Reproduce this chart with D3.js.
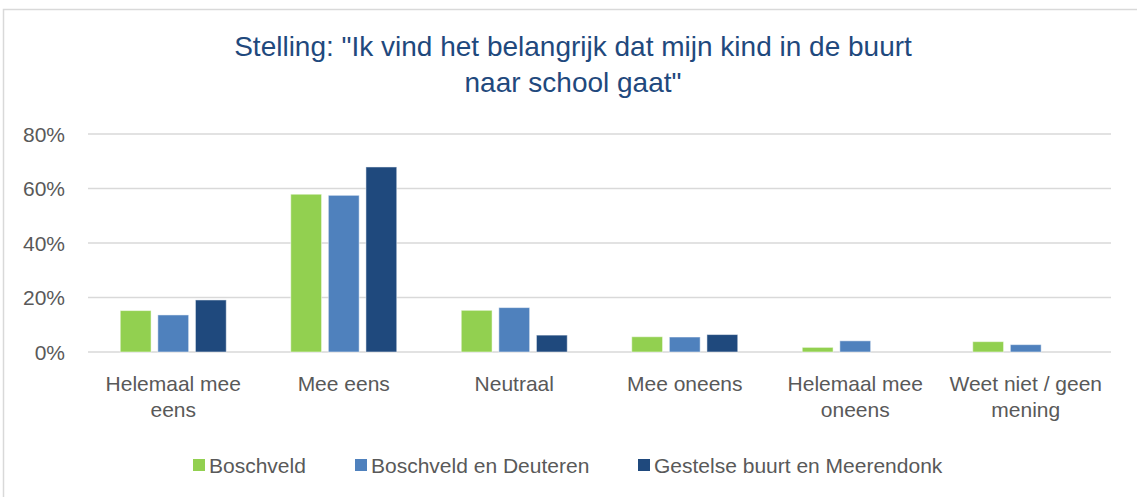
<!DOCTYPE html>
<html><head><meta charset="utf-8">
<script src="https://cdn.jsdelivr.net/npm/d3@7"></script>
<style>body{margin:0;background:#fff;} svg{display:block;}</style>
</head><body>
<script>
const categories = [["Helemaal mee","eens"],["Mee eens"],["Neutraal"],["Mee oneens"],["Helemaal mee","oneens"],["Weet niet / geen","mening"]];
const seriesNames = ["Boschveld","Boschveld en Deuteren","Gestelse buurt en Meerendonk"];
const boschveld = [15.2, 57.9, 15.3, 5.6, 1.7, 3.8];
const boschveldDeuteren = [13.6, 57.5, 16.3, 5.5, 4.1, 2.7];
const gestelse = [19.1, 67.9, 6.2, 6.4, 0, 0];
const yTicks = [0, 20, 40, 60, 80];
const titleLines = ['Stelling: "Ik vind het belangrijk dat mijn kind in de buurt', 'naar school gaat"'];
const colors = ["#92D050", "#4F81BD", "#1F497D"];

const W = 1137, H = 497;
const font = "'Liberation Sans Narrow', 'Arial Narrow', 'Liberation Sans', sans-serif";
const svg = d3.select("body").append("svg").attr("width", W).attr("height", H);
svg.append("rect").attr("x", 3.5).attr("y", 9.5).attr("width", W + 10).attr("height", H + 10)
  .attr("fill", "#fff").attr("stroke", "#D9D9D9").attr("stroke-width", 1.5);

const m = {left: 88, right: 1111, top: 134, bottom: 352};
const x0 = d3.scaleBand().domain(d3.range(categories.length)).range([m.left, m.right]);
const x1 = d3.scaleBand().domain(d3.range(3)).range([0, 106]).paddingInner(0.18);
const y = d3.scaleLinear().domain([0, 80]).range([m.bottom, m.top]);

// gridlines
svg.append("g").selectAll("line").data(yTicks).join("line")
  .attr("x1", m.left).attr("x2", m.right)
  .attr("y1", d => y(d)).attr("y2", d => y(d))
  .attr("stroke", "#D9D9D9").attr("stroke-width", 1.5);

// y axis labels
const yAxis = d3.axisLeft(y).tickValues(yTicks).tickFormat(d => d + "%").tickSize(0).tickPadding(0);
const ya = svg.append("g").attr("transform", `translate(${m.left - 23},0)`).call(yAxis);
ya.select(".domain").remove();
ya.selectAll("text").attr("font-family", font).attr("font-size", 21).attr("fill", "#595959").attr("dy", "0.35em");

// bars
const data = [boschveld, boschveldDeuteren, gestelse];
const groups = svg.append("g").selectAll("g").data(categories).join("g")
  .attr("transform", (d, i) => `translate(${x0(i) + x0.bandwidth() / 2 - 53},0)`);
groups.selectAll("rect").data((d, i) => data.map((s, j) => ({j, v: s[i]})).filter(e => e.v > 0)).join("rect")
  .attr("x", d => x1(d.j)).attr("width", x1.bandwidth())
  .attr("y", d => y(d.v)).attr("height", d => y(0) - y(d.v))
  .attr("fill", d => colors[d.j]).attr("stroke", "#fff").attr("stroke-opacity", 0.5).attr("stroke-width", 1);

// x axis labels
const xa = svg.append("g");
categories.forEach((lines, i) => {
  const t = xa.append("text").attr("x", x0(i) + x0.bandwidth() / 2).attr("y", 391)
    .attr("text-anchor", "middle").attr("font-family", font).attr("font-size", 21).attr("fill", "#595959");
  lines.forEach((l, k) => t.append("tspan").attr("x", x0(i) + x0.bandwidth() / 2).attr("dy", k ? 26 : 0).text(l));
});

// title
const tt = svg.append("text").attr("text-anchor", "middle").attr("font-family", font)
  .attr("font-size", 28).attr("fill", "#1F497D");
titleLines.forEach((l, k) => tt.append("tspan").attr("x", 573).attr("y", 56 + k * 36).text(l));

// legend
const legX = [193, 355, 638];
const lg = svg.append("g");
seriesNames.forEach((n, i) => {
  lg.append("rect").attr("x", legX[i]).attr("y", 459).attr("width", 12).attr("height", 12).attr("fill", colors[i]);
  lg.append("text").attr("x", legX[i] + 16).attr("y", 473).attr("font-family", font).attr("font-size", 21)
    .attr("fill", "#595959").text(n);
});
</script>
</body></html>
